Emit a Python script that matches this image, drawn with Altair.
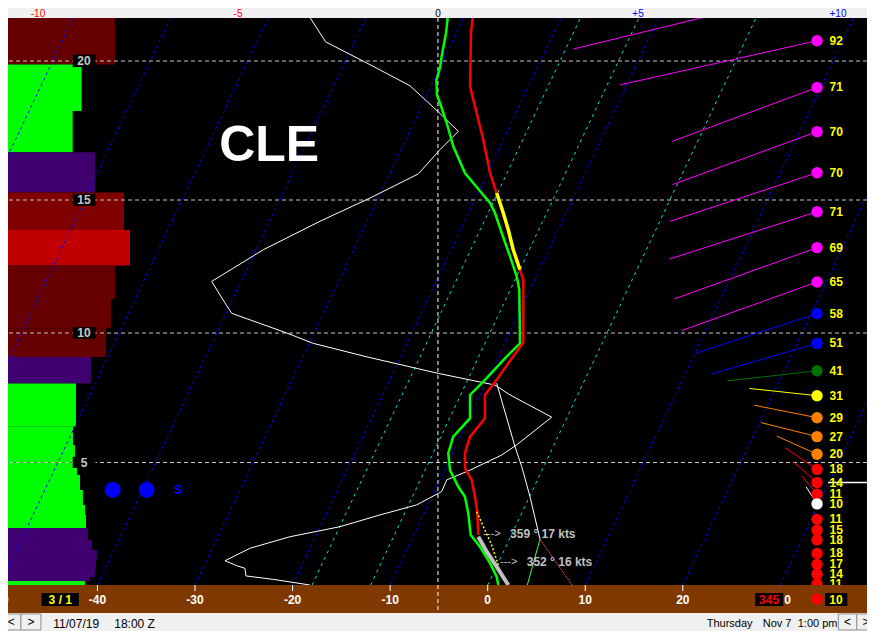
import altair as alt
import pandas as pd

FONT = "Liberation Sans"

# ---------------- data ----------------
# x values: position on the bottom (skewed) temperature axis, deg C
# h values: height in thousands of feet
TEMP_X = [-1.48, -1.71, -1.81, -1.48, -0.45, 0.24, 0.92, 1.60, 2.11, 2.62, 3.31, 3.65,
          3.65, 2.11, 0.92, -0.28, -0.28, -1.81, -2.33, -2.33, -1.64, -1.30, -1.07, -0.96]
TEMP_H = [21.7, 20.98, 19.09, 18.61, 17.17, 15.97, 15.25, 14.51, 13.88, 13.13, 12.38, 12.0,
          9.63, 8.83, 8.19, 7.61, 6.71, 6.0, 5.36, 4.76, 4.29, 3.60, 2.99, 2.04]
DGZ_X = [0.92, 1.60, 2.11, 2.62, 3.31]
DGZ_H = [15.25, 14.51, 13.88, 13.13, 12.38]
SFC_X = [-0.96, -0.10, 0.92, 2.11]
SFC_H = [1.97, 1.36, 0.75, 0.0]
YDOT_X = [-1.13, -0.28, 0.41, 1.09]
YDOT_H = [2.99, 2.24, 1.63, 0.82]

DEW_X = [-4.04, -4.27, -4.72, -4.89, -5.25, -5.20, -4.89, -4.20, -3.53, -2.33,
         -1.48, -0.62, 0.24, 0.75, 1.44, 2.29, 2.97, 3.24, 3.31, 1.77,
         -0.45, -1.81, -1.81, -3.53, -4.04, -3.86, -3.01, -2.33, -1.99, -1.74,
         -0.79, 0.24, 0.92, 1.09]
DEW_H = [21.7, 20.98, 20.16, 19.75, 19.32, 18.78, 18.49, 17.77, 16.93, 15.97,
         15.61, 15.25, 14.89, 14.51, 13.76, 12.88, 12.13, 11.63, 9.60, 9.02,
         8.12, 7.61, 6.71, 6.0, 5.36, 4.69, 4.01, 3.60, 2.93, 2.04,
         1.56, 0.89, 0.34, 0.0]

WHITE_X = [-18.55, -16.61, -12.40, -7.97, -5.06, -3.01, -4.89, -7.11, -12.07, -17.19,
           -23.0, -28.29, -26.93, -26.24, -20.60, -17.88, -12.40, -5.06, 0.75, 2.29,
           6.56, 2.97, 1.44, -1.81, -4.20, -4.72, -5.06, -7.28, -11.04, -15.14,
           -20.27, -24.37, -26.93, -25.73, -24.88, -24.78, -21.98, -18.22]
WHITE_H = [21.7, 20.67, 19.93, 19.11, 18.17, 17.47, 16.81, 15.94, 15.07, 14.20,
           13.13, 11.94, 11.13, 10.74, 10.0, 9.60, 9.08, 8.44, 7.99, 7.61,
           6.75, 5.68, 5.29, 4.69, 4.29, 3.81, 3.74, 3.27, 2.86, 2.38,
           1.97, 1.50, 0.99, 0.79, 0.68, 0.37, 0.23, 0.0]

PARCEL_X = [0.92, 2.80, 3.49, 4.34, 5.36]
PARCEL_H = [8.06, 5.61, 4.83, 3.60, 1.87]
DRY_X = [5.36, 8.64]
DRY_H = [1.87, 0.0]
MIX_X = [5.36, 4.06]
MIX_H = [1.87, 0.0]

WIND_SPD = [92, 71, 70, 70, 71, 69, 65, 58, 51, 41, 31, 29, 27, 20, 18, 14, 11, 10,
            11, 15, 18, 18, 17, 14, 11]
WIND_H = [20.71, 19.05, 17.46, 15.98, 14.56, 13.21, 11.92, 10.73, 9.60, 8.54, 7.58, 6.73,
          6.0, 5.32, 4.72, 4.18, 3.71, 3.31, 2.68, 2.24, 1.84, 1.29, 0.84, 0.44, 0.04]
WIND_TAIL_X = [13.56, 18.92, 18.92, 18.69, 18.62, 19.13, 19.89, 21.35, 22.96, 24.56,
               26.82, 27.33, 28.02, 29.63, 30.48, 31.33, 32.19, 32.63]
WIND_TAIL_H = [19.14, 17.11, 15.55, 14.20, 12.78, 11.28, 10.09, 9.22, 8.42, 8.15,
               7.86, 7.21, 6.54, 6.02, 5.57, 5.03, 4.45, 4.01]
UPPER_WIND_X = [8.78, 33.76]
UPPER_WIND_H = [20.42, 22.49]
DOT_X = 33.76
LABEL_X = 35.04

BAR_TOP = [21.7, 19.87, 18.20, 16.72, 15.27, 13.87, 12.54, 11.28, 10.18, 9.07, 8.05, 6.38,
           5.68, 5.0, 4.49, 3.88, 3.27, 2.86, 2.33, 1.84, 1.43, 1.02, 0.61, 0.33, 0.16]
BAR_END = [-38.21, -41.62, -42.54, -40.26, -37.28, -36.66, -38.21, -38.62, -39.13, -40.67,
           -42.20, -42.51, -42.31, -42.10, -41.79, -41.49, -41.28, -41.18, -40.98, -40.57,
           -40.06, -40.16, -40.26, -40.77, -41.28]
BAR_CLS = ["maroon", "green", "green", "purple", "darkred", "red", "maroon", "maroon",
           "maroon", "purple", "green", "green", "green", "green", "green", "green", "green",
           "green", "purple", "purple", "purple", "purple", "purple", "purple", "green"]
BAR_START = -50

ISO_BASE = [-70, -60, -50, -40, -30, -20, -10, 10, 20, 30]
SPECIAL_ISO = [-18, -12, 0]
HEIGHT_LEVELS = [5, 10, 15, 20]
HEIGHT_LABEL_X = -41.38
ZERO_LINE_X = -5.1

SNOW_DOT_X = [-38.44, -34.96]
SNOW_H = 3.88
SNOW_S_X = -31.72

SFC_WIND_TEXT = ["359 \u00b0 17 kts", "352 \u00b0 16 kts"]
SFC_WIND_X = [2.29, 4.0]
SFC_WIND_ARROW_X = [-0.45, 1.26]
SFC_WIND_H = [2.07, 0.93]

BOTTOM_TICKS = [-50, -40, -30, -20, -10, 0, 10, 20]
TOP_TICKS = [-10, -5, 0, 5, 10]
TOP_LABELS = ["-10", "-5", "0", "+5", "+10"]
TOP_KIND = ["neg", "neg", "zero", "pos", "pos"]

STATUS_LEFT = ["11/07/19", "18:00 Z"]
STATUS_LEFT_X = [-44.53, -38.28]
STATUS_RIGHT = ["Thursday", "Nov 7", "1:00 pm"]
STATUS_RIGHT_X = [22.45, 28.19, 31.78]
BTN_X0 = [-49.82, -47.84, 35.94, 37.83]
BTN_X1 = [-47.84, -45.79, 37.83, 39.70]
BTN_CX = [-48.83, -46.82, 36.88, 38.77]
BTN_LAB = ["<", ">", "<", ">"]

# ---------------- layout / scales ----------------
W = 859
H_TOPSTRIP = 10
H_MAIN = 567
H_BAND = 28
H_STATUS = 18
X_DOMAIN = [-49.17, 38.88]
TOP_DOMAIN = [-10.75, 10.725]
H_DOMAIN = [0, 5, 10, 15, 20, 21.505]
H_RANGE = [567, 444.5, 315, 182, 43, 0]
SKEW = 27.50

xs = alt.Scale(domain=X_DOMAIN, nice=False, zero=False)
ys = alt.Scale(domain=H_DOMAIN, range=H_RANGE, nice=False, zero=False)


def ex(f):
    return alt.X(f, type="quantitative", scale=xs, axis=None)


def ey(f):
    return alt.Y(f, type="quantitative", scale=ys, axis=None)


def profile(xv, hv, color, width, dash=None):
    df = pd.DataFrame({"x": xv, "h": hv, "i": list(range(len(xv)))})
    kw = dict(color=color, strokeWidth=width, clip=True)
    if dash:
        kw["strokeDash"] = dash
    return alt.Chart(df).mark_line(**kw).encode(x=ex("x"), y=ey("h"), order=alt.Order("i:Q"))


# ---------------- main panel ----------------
bars_df = pd.DataFrame({"x0": BAR_START, "x1": BAR_END, "h0": BAR_TOP,
                        "h1": BAR_TOP[1:] + [0.0], "cls": BAR_CLS})
bars = alt.Chart(bars_df).mark_rect(clip=True).encode(
    x=ex("x0"), x2="x1", y=ey("h0"), y2="h1",
    color=alt.Color("cls:N", legend=None, scale=alt.Scale(
        domain=["maroon", "darkred", "red", "green", "purple"],
        range=["#660000", "#800000", "#c00000", "#00ff00", "#400070"])))

iso_rows = []
for b in ISO_BASE:
    iso_rows.append({"base": b, "x": b, "h": H_DOMAIN[0]})
    iso_rows.append({"base": b, "x": b + SKEW, "h": H_DOMAIN[-1]})
iso = alt.Chart(pd.DataFrame(iso_rows)).mark_line(
    color="#0000ff", strokeWidth=1, strokeDash=[3, 3], clip=True).encode(
    x=ex("x"), y=ey("h"), detail="base:N")

sp_rows = []
for b in SPECIAL_ISO:
    sp_rows.append({"base": b, "x": b, "h": H_DOMAIN[0]})
    sp_rows.append({"base": b, "x": b + SKEW, "h": H_DOMAIN[-1]})
spiso = alt.Chart(pd.DataFrame(sp_rows)).mark_line(
    color="#00e0e0", strokeWidth=1, strokeDash=[3, 4], clip=True).encode(
    x=ex("x"), y=ey("h"), detail="base:N")

hgrid = alt.Chart(pd.DataFrame({"h": HEIGHT_LEVELS})).mark_rule(
    color="#c8c8c8", strokeWidth=1, strokeDash=[4, 3], clip=True).encode(y=ey("h"))

vzero = alt.Chart(pd.DataFrame({"x": [ZERO_LINE_X]})).mark_rule(
    color="#ffffff", strokeWidth=1, strokeDash=[4, 3], clip=True).encode(x=ex("x"))

white = profile(WHITE_X, WHITE_H, "#ffffff", 1)
parcel = profile(PARCEL_X, PARCEL_H, "#ffffff", 1)
dry = profile(DRY_X, DRY_H, "#ff5050", 1, [2, 1])
mix = profile(MIX_X, MIX_H, "#40ff40", 1)
dew = profile(DEW_X, DEW_H, "#00ff00", 2.5)
temp = profile(TEMP_X, TEMP_H, "#ff0000", 2.5)
dgz = profile(DGZ_X, DGZ_H, "#ffff00", 3.5)
sfc = profile(SFC_X, SFC_H, "#c0c0c0", 4)
ydot = profile(YDOT_X, YDOT_H, "#ffff00", 1.5, [2, 2])

wind_color = alt.Color("spd:Q", legend=None, scale=alt.Scale(
    type="threshold", domain=[11, 20, 30, 40, 50, 60],
    range=["#ffffff", "#ff0000", "#ff8000", "#ffff00", "#007000", "#0000ff", "#ff00ff"]))

n_tail = len(WIND_TAIL_X)
tail_df = pd.DataFrame({"spd": WIND_SPD[:n_tail], "h": WIND_H[:n_tail], "x": DOT_X,
                        "tx": WIND_TAIL_X, "th": WIND_TAIL_H})
tails = alt.Chart(tail_df).mark_rule(strokeWidth=1, clip=True).encode(
    x=ex("x"), x2="tx", y=ey("h"), y2="th", color=wind_color)
upper = profile(UPPER_WIND_X, UPPER_WIND_H, "#ff00ff", 1)

wind_df = pd.DataFrame({"spd": WIND_SPD, "h": WIND_H, "x": DOT_X, "lx": LABEL_X})
dots = alt.Chart(wind_df).mark_circle(size=130, opacity=1, clip=True).encode(
    x=ex("x"), y=ey("h"), color=wind_color)
wlabels = alt.Chart(wind_df).mark_text(
    align="left", baseline="middle", fontSize=12, fontWeight="bold", font=FONT,
    color="#ffff00", clip=True).encode(x=ex("lx"), y=ey("h"), text="spd:Q")

sfc_line_df = pd.DataFrame({"x0": [34.88], "x1": [40.0], "h": [WIND_H[15]]})
sfc_marker = alt.Chart(sfc_line_df).mark_rule(color="#ffffff", strokeWidth=1.5, clip=True).encode(
    x=ex("x0"), x2="x1", y=ey("h"))

station = alt.Chart(pd.DataFrame({"x": [-22.40], "h": [16.39], "t": ["CLE"]})).mark_text(
    fontSize=50, fontWeight="bold", font=FONT, color="#ffffff", align="center",
    baseline="alphabetic", clip=True).encode(x=ex("x"), y=ey("h"), text="t:N")

hl_df = pd.DataFrame({"h": HEIGHT_LEVELS, "t": [str(v) for v in HEIGHT_LEVELS],
                      "x": HEIGHT_LABEL_X, "x0": HEIGHT_LABEL_X - 1.16,
                      "x1": HEIGHT_LABEL_X + 1.18})
hl_df["h0"] = hl_df["h"] - 0.22
hl_df["h1"] = hl_df["h"] + 0.22
hl_box = alt.Chart(hl_df).mark_rect(color="#000000", clip=True).encode(
    x=ex("x0"), x2="x1", y=ey("h0"), y2="h1")
hl_text = alt.Chart(hl_df).mark_text(
    fontSize=12, fontWeight="bold", font=FONT, color="#c8c8c8", baseline="middle",
    clip=True).encode(x=ex("x"), y=ey("h"), text="t:N")

snow = alt.Chart(pd.DataFrame({"x": SNOW_DOT_X, "h": SNOW_H})).mark_circle(
    size=254, opacity=1, color="#0000ff", clip=True).encode(x=ex("x"), y=ey("h"))
snow_s = alt.Chart(pd.DataFrame({"x": [SNOW_S_X], "h": [SNOW_H], "t": ["S"]})).mark_text(
    fontSize=12, fontWeight="bold", font=FONT, color="#0000ff", baseline="middle",
    clip=True).encode(x=ex("x"), y=ey("h"), text="t:N")

sw_df = pd.DataFrame({"x": SFC_WIND_X, "ax": SFC_WIND_ARROW_X, "h": SFC_WIND_H,
                      "t": SFC_WIND_TEXT, "a": ["--->", "--->"]})
sw_text = alt.Chart(sw_df).mark_text(
    fontSize=12, fontWeight="bold", font=FONT, color="#c0c0c0", align="left",
    baseline="middle", clip=True).encode(x=ex("x"), y=ey("h"), text="t:N")
sw_arrow = alt.Chart(sw_df).mark_text(
    fontSize=11, font=FONT, color="#c0c0c0", align="left",
    baseline="middle", clip=True).encode(x=ex("ax"), y=ey("h"), text="a:N")

main = alt.layer(
    bars, iso, spiso, hgrid, vzero, white, parcel, dry, mix, dew, temp, dgz, sfc, ydot,
    tails, upper, sfc_marker, dots, wlabels, station, hl_box, hl_text, snow, snow_s,
    sw_arrow, sw_text
).resolve_scale(color="independent").properties(
    width=W, height=H_MAIN, view=alt.ViewBackground(fill="#000000", stroke=None))

# ---------------- top strip ----------------
top_df = pd.DataFrame({"v": TOP_TICKS, "lab": TOP_LABELS, "kind": TOP_KIND})
top = alt.Chart(top_df).mark_text(fontSize=10, font=FONT, baseline="alphabetic", clip=True).encode(
    x=alt.X("v:Q", scale=alt.Scale(domain=TOP_DOMAIN, nice=False, zero=False), axis=None),
    y=alt.value(9), text="lab:N",
    color=alt.Color("kind:N", legend=None, scale=alt.Scale(
        domain=["neg", "zero", "pos"], range=["#ff0000", "#000000", "#0000ff"]))
).properties(width=W, height=H_TOPSTRIP,
             view=alt.ViewBackground(fill="#f0f0f0", stroke=None))

# ---------------- bottom temperature band ----------------
bt_df = pd.DataFrame({"x": BOTTOM_TICKS, "lab": [str(v) for v in BOTTOM_TICKS]})
b_ticks = alt.Chart(bt_df).mark_rule(color="#ffffff", clip=True).encode(
    x=ex("x"), y=alt.value(0), y2=alt.value(6))
b_labels = alt.Chart(bt_df).mark_text(
    fontSize=12, fontWeight="bold", font=FONT, color="#ffffff", baseline="middle",
    clip=True).encode(x=ex("x"), y=alt.value(14.5), text="lab:N")
b_zero = alt.Chart(pd.DataFrame({"x": [ZERO_LINE_X]})).mark_rule(
    color="#ffffff", strokeDash=[4, 3], clip=True).encode(x=ex("x"))

box_df = pd.DataFrame({"x0": [-45.73, 27.42, 34.58], "x1": [-41.91, 30.30, 36.86],
                       "cx": [-43.81, 28.84, 35.7], "t": ["3 / 1", "345", "10"]})
b_boxes = alt.Chart(box_df).mark_rect(color="#000000", clip=True).encode(
    x=ex("x0"), x2="x1", y=alt.value(8), y2=alt.value(21))
b_yellow = alt.Chart(box_df.iloc[[0, 2]]).mark_text(
    fontSize=12, fontWeight="bold", font=FONT, color="#ffff00", baseline="middle",
    clip=True).encode(x=ex("cx"), y=alt.value(14.5), text="t:N")
b_red = alt.Chart(box_df.iloc[[1]]).mark_text(
    fontSize=12, fontWeight="bold", font=FONT, color="#ff0000", baseline="middle",
    clip=True).encode(x=ex("cx"), y=alt.value(14.5), text="t:N")
b_dir = alt.Chart(pd.DataFrame({"x": [30.75], "t": ["0"]})).mark_text(
    fontSize=12, fontWeight="bold", font=FONT, color="#ffffff", baseline="middle",
    clip=True).encode(x=ex("x"), y=alt.value(14.5), text="t:N")
b_dot = alt.Chart(pd.DataFrame({"x": [DOT_X]})).mark_circle(
    size=130, opacity=1, color="#ff0000", clip=True).encode(x=ex("x"), y=alt.value(14))

band = alt.layer(b_zero, b_ticks, b_labels, b_boxes, b_yellow, b_red, b_dir, b_dot).properties(
    width=W, height=H_BAND, view=alt.ViewBackground(fill="#7f3900", stroke=None))

# ---------------- status bar ----------------
btn_df = pd.DataFrame({"x0": BTN_X0, "x1": BTN_X1, "cx": BTN_CX, "t": BTN_LAB})
s_btn = alt.Chart(btn_df).mark_rect(fill="#f0f0f0", stroke="#909090", strokeWidth=1,
                                    clip=True).encode(
    x=ex("x0"), x2="x1", y=alt.value(1), y2=alt.value(17))
s_btn_t = alt.Chart(btn_df).mark_text(fontSize=12, font=FONT, color="#000000",
                                      baseline="middle", clip=True).encode(
    x=ex("cx"), y=alt.value(9), text="t:N")
s_left = alt.Chart(pd.DataFrame({"x": STATUS_LEFT_X, "t": STATUS_LEFT})).mark_text(
    fontSize=12, font=FONT, color="#000000", align="left", baseline="middle",
    clip=True).encode(x=ex("x"), y=alt.value(10.5), text="t:N")
s_right = alt.Chart(pd.DataFrame({"x": STATUS_RIGHT_X, "t": STATUS_RIGHT})).mark_text(
    fontSize=11, font=FONT, color="#000000", align="left", baseline="middle",
    clip=True).encode(x=ex("x"), y=alt.value(10.5), text="t:N")
status = alt.layer(s_btn, s_btn_t, s_left, s_right).properties(
    width=W, height=H_STATUS, view=alt.ViewBackground(fill="#f0f0f0", stroke=None))

chart = alt.vconcat(top, main, band, status, spacing=0, bounds="flush").resolve_scale(
    x="independent", y="independent", color="independent"
).properties(padding=0, background="#f0f0f0").configure_view(stroke=None)

chart.save("out.html", embed_options={"renderer": "svg", "actions": False})
